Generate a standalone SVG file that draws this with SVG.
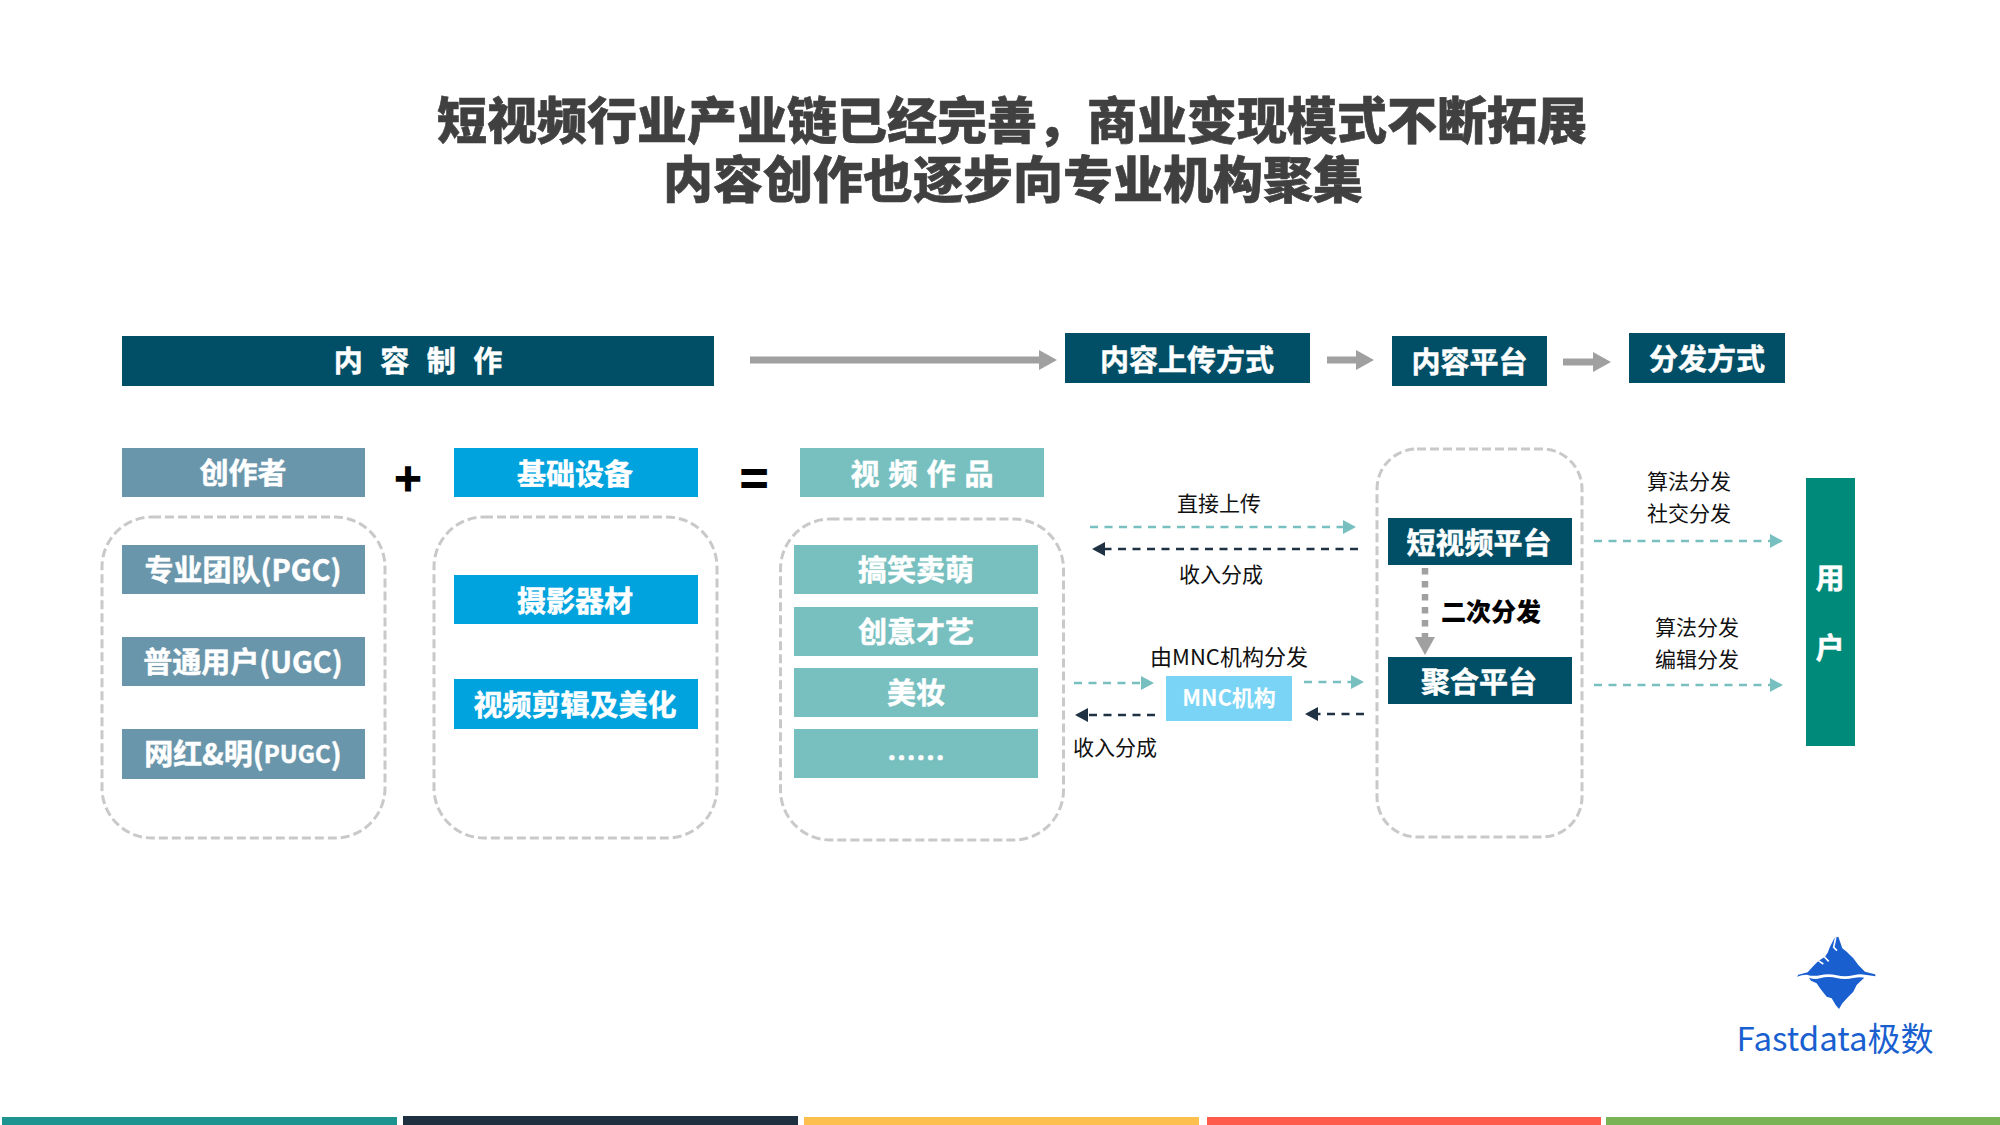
<svg xmlns="http://www.w3.org/2000/svg" width="2000" height="1125" viewBox="0 0 2000 1125">
<style>
text{font-family:"Noto Sans CJK SC","Noto Sans",sans-serif;text-anchor:middle;dominant-baseline:central}
.title{font-size:50px;font-weight:900;fill:#404040;stroke:#404040;stroke-width:.6px}
.w{font-size:29px;font-weight:700;fill:#fff;stroke:#fff;stroke-width:.5px}
.l{font-size:21px;font-weight:400;fill:#111}
.dark{fill:#004F66}.slate{fill:#6A96AB}.blue{fill:#00A3DD}.teal{fill:#78C0C0}
.box{fill:none;stroke:#C9C9C9;stroke-width:3;stroke-dasharray:9 4}
.gray{fill:none;stroke:#A0A0A0;stroke-width:7;marker-end:url(#hg)}
.t{fill:none;stroke:#78C0C0;stroke-width:2.5;stroke-dasharray:8 6.5;marker-end:url(#ht)}
.d{fill:none;stroke:#1F3142;stroke-width:2.5;stroke-dasharray:8 6.5;marker-end:url(#hd)}
</style>
<defs>
<marker id="hg" markerUnits="userSpaceOnUse" markerWidth="18" markerHeight="20" refX="0" refY="10" orient="auto"><path d="M0 0L18 10L0 20Z" fill="#A0A0A0"/></marker>
<marker id="ht" markerUnits="userSpaceOnUse" markerWidth="13" markerHeight="14" refX="0" refY="7" orient="auto"><path d="M0 0L13 7L0 14Z" fill="#78C0C0"/></marker>
<marker id="hd" markerUnits="userSpaceOnUse" markerWidth="13" markerHeight="14" refX="0" refY="7" orient="auto"><path d="M0 0L13 7L0 14Z" fill="#1F3142"/></marker>
</defs>
<rect width="2000" height="1125" fill="#fff"/>
<g id="title">
<text class="title"><tspan x="1012" y="116.5">短视频行业产业链已经完善，商业变现模式不断拓展</tspan><tspan x="1013" y="175.5">内容创作也逐步向专业机构聚集</tspan></text>
</g>
<g id="connectors">
<path class="gray" d="M750 360H1039"/>
<path class="gray" d="M1327 360H1356"/>
<path class="gray" d="M1563 362H1593"/>
<path class="t" d="M1090 527H1343"/>
<path class="d" d="M1358 549H1105"/>
<path class="t" d="M1074 683H1141"/>
<path class="d" d="M1155 715H1088"/>
<path class="t" d="M1304 682H1351"/>
<path class="d" d="M1364 714H1318"/>
<path d="M1425 568V637" fill="none" stroke="#A0A0A0" stroke-width="6.5" stroke-dasharray="6.5 6.5" marker-end="url(#hg)"/>
<path class="t" d="M1594 541H1770"/>
<path class="t" d="M1594 685H1770"/>
</g>
<g id="header-production"><rect class="dark" x="122" y="336" width="592" height="50"/><text class="w" x="418" y="359" style="word-spacing:11px">内 容 制 作</text></g>
<g id="header-upload"><rect class="dark" x="1065" y="333" width="245" height="50"/><text class="w" x="1187" y="357.500">内容上传方式</text></g>
<g id="header-platform"><rect class="dark" x="1392" y="336" width="155" height="50"/><text class="w" x="1469.500" y="360">内容平台</text></g>
<g id="header-dist"><rect class="dark" x="1629" y="333" width="156" height="50"/><text class="w" x="1707" y="357">分发方式</text></g>

<g id="group-creator"><rect class="box" x="102" y="517" width="283" height="321" rx="50"/></g>
<g id="group-equipment"><rect class="box" x="434" y="517" width="283" height="321" rx="50"/></g>
<g id="group-works"><rect class="box" x="780.500" y="519" width="283" height="321" rx="50"/></g>
<g id="group-platform"><rect class="box" x="1377" y="449" width="205" height="388" rx="40"/></g>

<g id="creator"><rect class="slate" x="122" y="448" width="243" height="49"/><text class="w" x="243" y="471">创作者</text></g>
<g id="equipment"><rect class="blue" x="454" y="448" width="244" height="49"/><text class="w" x="575" y="471.500">基础设备</text></g>
<g id="works"><rect class="teal" x="800" y="448" width="244" height="49"/><text class="w" x="922" y="471.500" style="word-spacing:2.5px">视 频 作 品</text></g>
<g id="plus"><text x="408" y="476" style="font-size:46px;font-weight:900;fill:#000">+</text></g>
<g id="equals"><text x="754" y="476" style="font-size:48px;font-weight:900;fill:#000">=</text></g>

<g id="pgc"><rect class="slate" x="122" y="545" width="243" height="49"/><text class="w" x="243" y="568">专业团队(PGC)</text></g>
<g id="ugc"><rect class="slate" x="122" y="637" width="243" height="49"/><text class="w" x="243" y="660">普通用户(UGC)</text></g>
<g id="pugc"><rect class="slate" x="122" y="729" width="243" height="50"/><text class="w" x="243" y="752">网红&amp;明(<tspan style="font-size:24px">PUGC</tspan>)</text></g>
<g id="camera"><rect class="blue" x="454" y="575" width="244" height="49"/><text class="w" x="575" y="598.500">摄影器材</text></g>
<g id="editing"><rect class="blue" x="454" y="679" width="244" height="50"/><text class="w" x="575" y="703">视频剪辑及美化</text></g>
<g id="funny"><rect class="teal" x="794" y="545" width="244" height="49"/><text class="w" x="916" y="568">搞笑卖萌</text></g>
<g id="talent"><rect class="teal" x="794" y="607" width="244" height="49"/><text class="w" x="916" y="630">创意才艺</text></g>
<g id="makeup"><rect class="teal" x="794" y="668" width="244" height="49"/><text class="w" x="916" y="691">美妆</text></g>
<g id="more"><rect class="teal" x="794" y="729" width="244" height="49"/><text class="w" x="916" y="756">……</text></g>

<g id="mnc"><rect x="1166" y="676" width="126" height="45" fill="#7AD4F5"/><text x="1229" y="695.500" style="font-size:22px;font-weight:700;fill:#fff">MNC机构</text></g>
<g id="short-video"><rect class="dark" x="1388" y="518" width="184" height="47"/><text class="w" x="1479" y="540.500">短视频平台</text></g>
<g id="aggregate"><rect class="dark" x="1388" y="657" width="184" height="47"/><text class="w" x="1479" y="680">聚合平台</text></g>
<g id="user"><rect x="1806" y="478" width="49" height="268" fill="#008A7A"/><text class="w" x="1830" y="576">用</text><text class="w" x="1830" y="646">户</text></g>

<g id="labels">
<text class="l" x="1219" y="502">直接上传</text>
<text class="l" x="1221" y="573">收入分成</text>
<text x="1229" y="654.500" style="font-size:22px;fill:#111">由MNC机构分发</text>
<text class="l" x="1115" y="745.500">收入分成</text>
<text x="1491" y="610" style="font-size:25px;font-weight:900;fill:#000">二次分发</text>
<text class="l" x="1689" y="480">算法分发</text>
<text class="l" x="1689" y="512">社交分发</text>
<text class="l" x="1697" y="626">算法分发</text>
<text class="l" x="1697" y="658">编辑分发</text>
</g>

<g id="logo">
<g transform="translate(1785 930) scale(.3333)">
<path fill="#1A5FD0" d="M36 140L40 134L68 127L85 108L100 93L120 80L128 68L135 50L148 25L160 20L172 55L185 65L195 75L205 85L220 105L240 125L270 133L272 139L240 134Q225 130 205 136Q180 142 155 136Q130 130 105 136Q85 140 65 134Q50 134 36 140Z"/>
<path fill="#1A5FD0" d="M72 143Q90 150 105 145Q130 138 155 144Q180 150 205 144Q225 140 238 143L225 155L215 165L205 185L190 200L172 220L162 237L152 225L140 205L125 200L105 175L95 160L78 152Z"/>
<path fill="none" stroke="#fff" stroke-width="5" d="M152 24L146 52L156 62M110 72L131 94M100 92L115 102"/>
</g>
<text x="1835" y="1037" style="font-size:33px;fill:#1A5FD0">Fastdata极数</text>
</g>

<g id="footer">
<rect x="2" y="1117" width="395" height="8" fill="#1E9490"/>
<rect x="403" y="1116" width="395" height="9" fill="#1F3140"/>
<rect x="804" y="1117" width="395" height="8" fill="#FDBF4E"/>
<rect x="1207" y="1117" width="394" height="8" fill="#FF5B4D"/>
<rect x="1606" y="1117" width="394" height="8" fill="#7AB356"/>
</g>
</svg>
